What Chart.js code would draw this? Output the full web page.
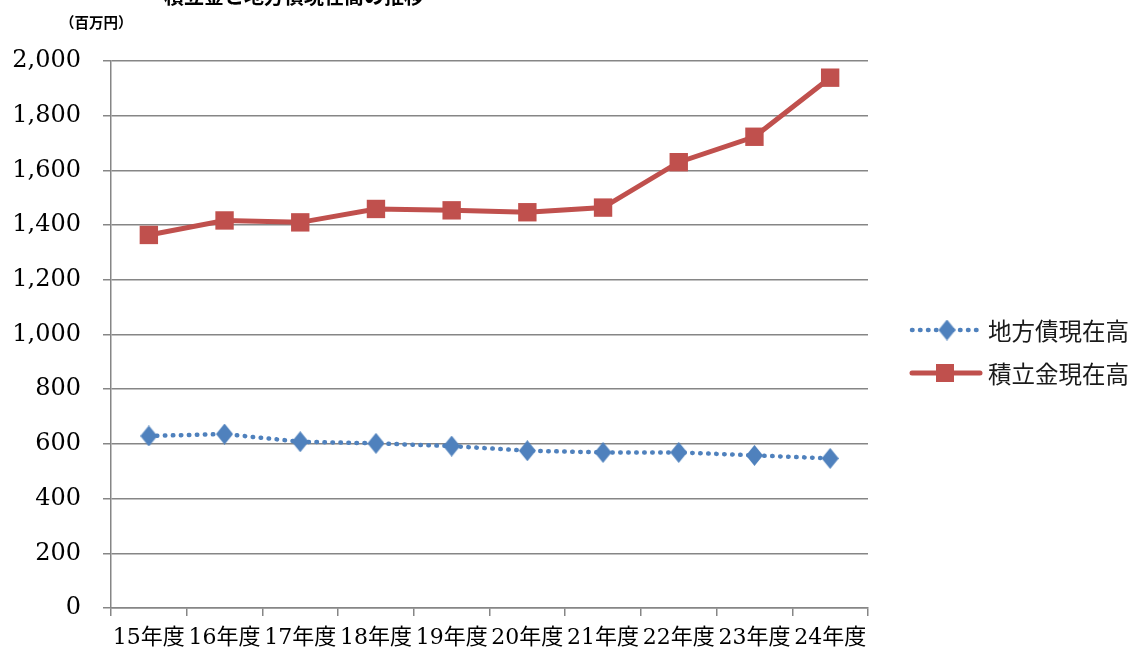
<!DOCTYPE html>
<html>
<head>
<meta charset="utf-8">
<script src="https://cdn.jsdelivr.net/npm/chart.js@4"></script>
<style>
  html, body { margin: 0; padding: 0; background: #fff; }
  #wrap { width: 1136px; height: 653px; }
</style>
</head>
<body>
<div id="wrap"><canvas id="chart" width="1136" height="653"></canvas></div>
<script>
// data
const years = ['15年度','16年度','17年度','18年度','19年度','20年度','21年度','22年度','23年度','24年度'];
const chihousai = [629, 636, 608, 602, 592, 575, 569, 569, 558, 547];   // 地方債現在高
const tsumitate = [1364, 1417, 1410, 1459, 1454, 1447, 1464, 1630, 1723, 1939]; // 積立金現在高

const BLUE = '#4F81BD';
const RED = '#C0504D';
const GRID = '#868686';
const SERIF = '"DejaVu Serif", "Noto Sans CJK JP", serif';
const SANS = '"Noto Sans CJK JP", "Noto Sans", sans-serif';

// tall diamond marker (Excel style)
function diamond(w, h) {
  const c = document.createElement('canvas');
  c.width = w; c.height = h;
  const g = c.getContext('2d');
  g.fillStyle = BLUE;
  g.beginPath();
  g.moveTo(w / 2, 0);
  g.lineTo(w, h / 2);
  g.lineTo(w / 2, h);
  g.lineTo(0, h / 2);
  g.closePath();
  g.fill();
  return c;
}
const dia = diamond(17, 21);

// title, unit and legend drawn by hand
const extras = {
  id: 'extras',
  afterDraw(chart) {
    const ctx = chart.ctx;
    ctx.save();
    ctx.fillStyle = '#000';
    ctx.font = 'bold 20px ' + SANS;
    ctx.textAlign = 'center';
    ctx.textBaseline = 'alphabetic';
    ctx.fillText('積立金と地方債現在高の推移', 294, 4);

    ctx.font = 'bold 14.5px ' + SANS;
    ctx.textAlign = 'left';
    ctx.textBaseline = 'middle';
    ctx.fillText('（百万円）', 60, 22);

    // legend row 1: dotted blue + diamond
    ctx.strokeStyle = BLUE;
    ctx.lineWidth = 4.5;
    ctx.lineCap = 'round';
    ctx.setLineDash([0.5, 7.5]);
    ctx.beginPath();
    ctx.moveTo(912, 330);
    ctx.lineTo(977, 330);
    ctx.stroke();
    ctx.setLineDash([]);
    ctx.drawImage(dia, 947 - 8.5, 330 - 10.5);

    // legend row 2: solid red + square
    ctx.strokeStyle = RED;
    ctx.lineWidth = 5;
    ctx.beginPath();
    ctx.moveTo(912, 373);
    ctx.lineTo(980, 373);
    ctx.stroke();
    ctx.fillStyle = RED;
    ctx.fillRect(936, 364, 18, 18);

    ctx.fillStyle = '#1a1a1a';
    ctx.font = '23.5px ' + SANS;
    ctx.textBaseline = 'middle';
    ctx.fillText('地方債現在高', 988, 331);
    ctx.fillText('積立金現在高', 988, 374);
    ctx.restore();
  }
};

new Chart(document.getElementById('chart').getContext('2d'), {
  type: 'line',
  data: {
    labels: years,
    datasets: [
      {
        label: '地方債現在高',
        data: chihousai,
        borderColor: BLUE,
        backgroundColor: BLUE,
        borderWidth: 4.5,
        borderDash: [0.5, 7.5],
        borderCapStyle: 'round',
        pointStyle: dia,
        pointRadius: 10,
        tension: 0
      },
      {
        label: '積立金現在高',
        data: tsumitate,
        borderColor: RED,
        backgroundColor: RED,
        borderWidth: 5,
        pointStyle: 'rect',
        pointRadius: 13,
        pointBorderWidth: 0,
        pointBackgroundColor: RED,
        tension: 0
      }
    ]
  },
  options: {
    responsive: false,
    animation: false,
    layout: { padding: { top: 61, right: 268, left: 10, bottom: 0 } },
    plugins: {
      legend: { display: false },
      tooltip: { enabled: false }
    },
    scales: {
      x: {
        offset: true,
        afterFit: s => { s.height = 45; },
        grid: {
          offset: true,
          drawOnChartArea: false,
          drawTicks: true,
          tickLength: 8,
          color: GRID,
          lineWidth: 1.5
        },
        border: { color: GRID, width: 1.5 },
        ticks: {
          color: '#000',
          padding: 9,
          maxRotation: 0,
          autoSkip: false,
          font: { family: SERIF, size: 22 }
        }
      },
      y: {
        min: 0,
        max: 2000,
        afterFit: s => { s.width = 101; },
        grid: { color: GRID, lineWidth: 1.5, tickLength: 8 },
        border: { color: GRID, width: 1.5 },
        ticks: {
          stepSize: 200,
          color: '#000',
          padding: 22,
          font: { family: SERIF, size: 24 },
          callback: v => v.toLocaleString('en-US')
        }
      }
    }
  },
  plugins: [extras]
});
</script>
</body>
</html>
